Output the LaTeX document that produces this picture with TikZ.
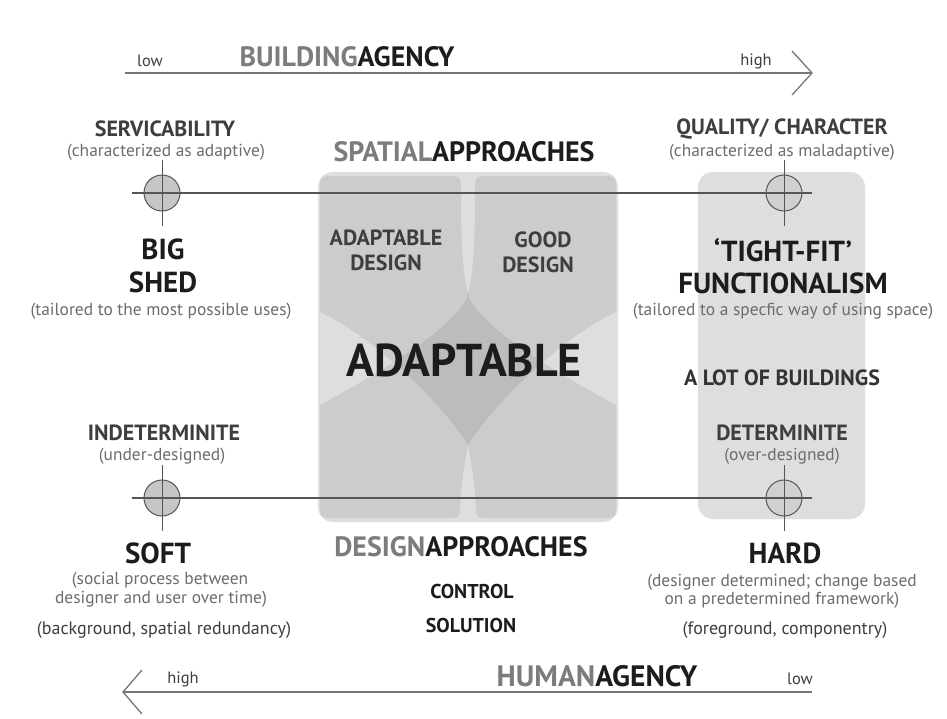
\documentclass[tikz,border=0pt]{standalone}
\usepackage{fontspec}
\setmainfont{PT Sans}
\definecolor{ink}{HTML}{1C1C1C}
\definecolor{tgray}{HTML}{7C7C7C}
\definecolor{hgray}{HTML}{3E3E3E}
\definecolor{sgray}{HTML}{6C6C6C}
\definecolor{panel}{HTML}{DEDEDE}
\definecolor{linec}{HTML}{555555}
\definecolor{circf}{HTML}{C6C6C6}
\tikzset{
  ttl/.style={font=\bfseries\fontsize{28}{30}\selectfont, text=ink, inner sep=0pt},
  ttlb/.style={font=\bfseries\fontsize{29.5}{31}\selectfont, text=ink, inner sep=0pt},
  head/.style={font=\bfseries\fontsize{22}{24}\selectfont, text=hgray, inner sep=0pt},
  sub/.style={font=\fontsize{17.4}{19}\selectfont, text=sgray, inner sep=0pt},
  subd/.style={font=\fontsize{18}{20}\selectfont, text=hgray, inner sep=0pt},
  bigt/.style={font=\bfseries\fontsize{29}{31}\selectfont, text=ink, inner sep=0pt},
  midt/.style={font=\bfseries\fontsize{20}{22}\selectfont, text=ink, inner sep=0pt},
  lott/.style={font=\bfseries\fontsize{22}{24}\selectfont, text=ink!90, inner sep=0pt},
  lobet/.style={font=\bfseries\fontsize{22}{24}\selectfont, text=hgray, inner sep=0pt},
  huge/.style={font=\bfseries\fontsize{46}{50}\selectfont, text=ink, inner sep=0pt},
  lh/.style={font=\fontsize{16.5}{18}\selectfont, text=hgray, inner sep=0pt},
  axis/.style={draw=linec, line width=1.2pt},
  arr/.style={draw=linec!80, line width=1.3pt},
  cross/.style={circle, draw=linec, line width=1pt, fill=circf, minimum size=36pt, inner sep=0pt},
  crossr/.style={cross, fill=black, fill opacity=0.06},
  lobe/.style={fill=black, fill opacity=0.08},
}
\begin{document}
\begin{tikzpicture}[x=1pt,y=-1pt]
\useasboundingbox (0,0) rectangle (947,718);
\fill[white] (0,0) rectangle (947,718);

% panels
\fill[panel, rounded corners=15pt] (318,172) rectangle (618,522);
\fill[panel, rounded corners=15pt] (698,172) rectangle (865,519);

% lobes (two crossing bands)
\path[lobe] (320,312) -- (320,191) .. controls (320,176) .. (335,176) -- (445,176)
  .. controls (461,176) .. (461,193) .. controls (461,250) and (463,280) .. (470,300)
  .. controls (490,335) and (570,380) .. (616,405) -- (616,503)
  .. controls (616,518) .. (601,518) -- (490,518) .. controls (476,518) .. (476,505)
  .. controls (474,480) and (471,460) .. (468,445)
  .. controls (440,400) and (370,335) .. (320,312) -- cycle;
\path[lobe] (616,312) -- (616,191) .. controls (616,176) .. (601,176) -- (491,176)
  .. controls (475,176) .. (475,193) .. controls (475,250) and (473,280) .. (466,300)
  .. controls (446,335) and (366,380) .. (320,405) -- (320,503)
  .. controls (320,518) .. (335,518) -- (446,518) .. controls (460,518) .. (460,505)
  .. controls (462,480) and (465,460) .. (468,445)
  .. controls (496,400) and (566,335) .. (616,312) -- cycle;

% crosshairs
\node[cross]  (c1) at (162,193) {};
\node[crossr] (c2) at (784,193) {};
\node[cross]  (c3) at (162,498) {};
\node[crossr] (c4) at (784,498) {};
\foreach \c in {c1,c2,c3,c4}{
  \draw[draw=linec, line width=1pt] (\c.center) ++(0,-33) -- ++(0,66);
}
\coordinate (h1s) at (132,193); \coordinate (h1e) at (812,193);
\coordinate (h2s) at (132,498); \coordinate (h2e) at (812,498);
\draw[axis] (h1s) -- (h1e);
\draw[axis] (h2s) -- (h2e);

% top arrow
\coordinate (ta) at (125,73); \coordinate (tb) at (812,73);
\coordinate (tu) at (792,51); \coordinate (td) at (792,95);
\draw[arr] (ta) -- (tb);
\draw[arr] (tu) -- (tb) -- (td);
% bottom arrow
\coordinate (ba) at (812,692); \coordinate (bb) at (123,692);
\coordinate (bu) at (142,670); \coordinate (bd) at (142,714);
\draw[arr] (ba) -- (bb);
\draw[arr] (bu) -- (bb) -- (bd);

% axis labels
\node[lh] (lowT) at (150,61) {low};
\node[lh] (highT) at (756,61) {high};
\node[ttl] (bag) at (347,57) {\textcolor{tgray}{BUILDING}AGENCY};
\node[lh] (highB) at (183,679) {high};
\node[lh] (lowB) at (800,679) {low};
\node[ttlb] (hag) at (597,676) {\textcolor{tgray}{HUMAN}AGENCY};

% center column
\node[ttl] (spa) at (464,152) {\textcolor{tgray}{SPATIAL}APPROACHES};
\node[lobet] (ad1) at (386,238) {ADAPTABLE};
\node[lobet] (ad2) at (386,263) {DESIGN};
\node[lobet] (gd1) at (543,240) {GOOD};
\node[lobet] (gd2) at (538,265) {DESIGN};
\node[huge] (adp) at (464,360) {ADAPTABLE};
\node[ttl] (dea) at (461,547) {\textcolor{tgray}{DESIGN}APPROACHES};
\node[midt] (ctl) at (472,591) {CONTROL};
\node[midt] (sol) at (471,625) {SOLUTION};

% left column
\node[head] (srv) at (165,129) {SERVICABILITY};
\node[sub] (srvs) at (166,152) {(characterized as adaptive)};
\node[bigt] (big) at (163,249) {BIG};
\node[bigt] (shed) at (163,282) {SHED};
\node[sub] (shs) at (161,311) {(tailored to the most possible uses)};
\node[head] (ind) at (164,433) {INDETERMINITE};
\node[sub] (inds) at (162,456) {(under-designed)};
\node[bigt] (soft) at (158,553) {SOFT};
\node[sub] (sof1) at (160,580) {(social process between};
\node[sub] (sof2) at (161,599) {designer and user over time)};
\node[subd] (sof3) at (164,630) {(background, spatial redundancy)};

% right column
\node[head] (qua) at (782,129) {QUALITY/ CHARACTER};
\node[sub] (quas) at (782,152) {(characterized as maladaptive)};
\node[bigt] (tf) at (783,250) {‘TIGHT-FIT’};
\node[bigt] (fun) at (783,283) {FUNCTIONALISM};
\node[sub] (funs) at (783,311) {(tailored to a specfic way of using space)};
\node[lott] (lot) at (782,378) {A LOT OF BUILDINGS};
\node[head] (det) at (782,433) {DETERMINITE};
\node[sub] (dets) at (782,456) {(over-designed)};
\node[bigt] (hard) at (785,553) {HARD};
\node[sub] (har1) at (782,582) {(designer determined; change based};
\node[sub] (har2) at (782,600) {on a predetermined framework)};
\node[subd] (har3) at (785,630) {(foreground, componentry)};
\end{tikzpicture}
\end{document}
